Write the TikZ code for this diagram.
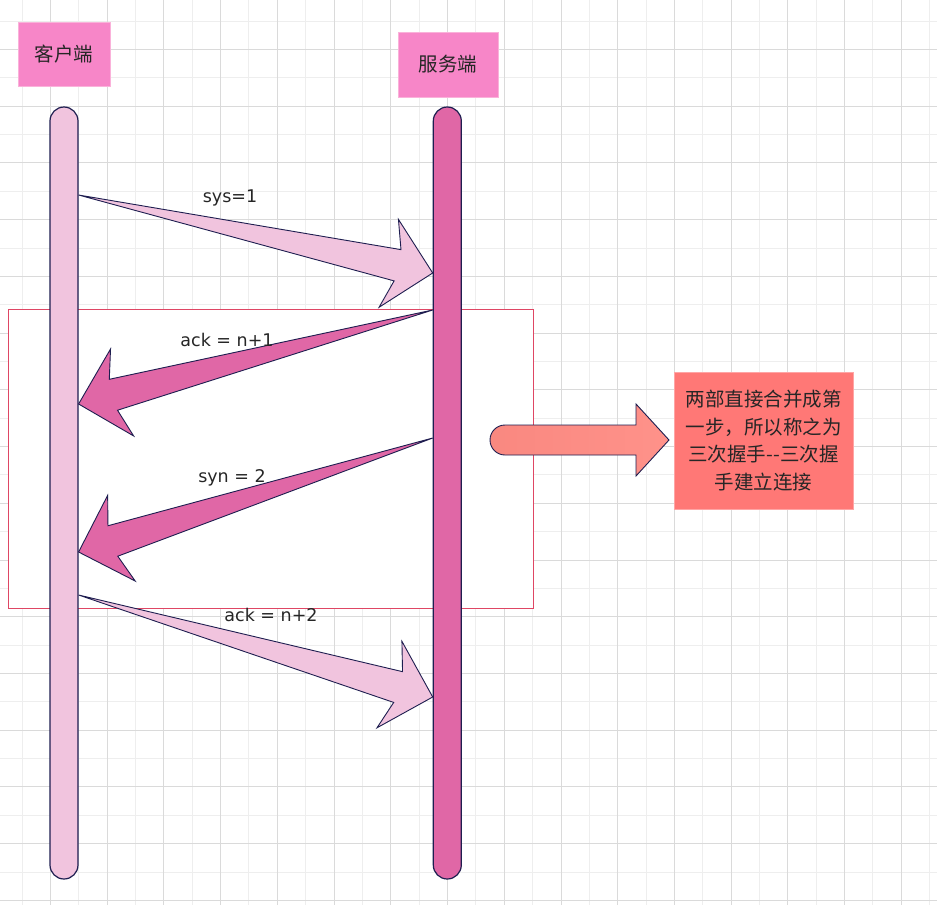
\documentclass[tikz,border=0pt]{standalone}
\usepackage{fontspec}
\setmainfont{Noto Sans CJK SC}
\newfontfamily\latinfont{DejaVu Sans}
\usetikzlibrary{calc, positioning}

\definecolor{inkline}{RGB}{30,30,80}
\definecolor{headpink}{RGB}{247,134,200}
\definecolor{headedge}{RGB}{250,178,218}
\definecolor{clientpink}{RGB}{241,196,222}
\definecolor{serverpink}{RGB}{224,103,166}
\definecolor{groupred}{RGB}{223,70,100}
\definecolor{notered}{RGB}{255,120,118}
\definecolor{noteedge}{RGB}{255,165,165}
\definecolor{salmonl}{RGB}{249,136,128}
\definecolor{salmonr}{RGB}{255,146,138}
\definecolor{griddk}{RGB}{218,218,218}
\definecolor{gridlt}{RGB}{238,238,238}

% tapered message arrow: #1 tail, #2 tip, #3 fill
\newcommand{\msgarrow}[3]{%
  \path ($(#2)!36pt!(#1)$) coordinate (neck)
        ($(#2)!45pt!(#1)$) coordinate (barb);
  \draw[msg, fill=#3] (#1) -- ($(neck)!16pt!-90:(#2)$) -- ($(barb)!45pt!-90:(#2)$)
    -- (#2) -- ($(barb)!45pt!90:(#2)$) -- ($(neck)!16pt!90:(#2)$) -- cycle;
}

\begin{document}
\begin{tikzpicture}[x=1pt, y=-1pt,
    cjk/.style={font={\fontsize{19.5}{27.7}\selectfont}, text=black!85},
    head/.style={cjk, fill=headpink, draw=headedge, line width=1pt, inner sep=0pt},
    lifeline/.style={draw=inkline, line width=1.2pt, minimum width=28pt, minimum height=772pt, rounded corners=14pt, inner sep=0pt},
    msg/.style={draw=inkline, line width=0.9pt},
    msglabel/.style={font={\fontsize{17.5}{21}\selectfont\latinfont}, text=black!85, inner sep=0pt},
    notebox/.style={cjk, fill=notered, draw=noteedge, line width=1pt, minimum width=179pt, minimum height=137pt, align=center, inner sep=0pt},
]
    \clip (0,0) rectangle (937,905);
    \fill[white] (0,0) rectangle (937,905);

    % grid
    \foreach \k in {0,...,16} {
        \draw[gridlt, line width=0.8pt] ({21.9+56.73*\k},0) -- ++(0,905);
        \draw[gridlt, line width=0.8pt] (0,{21+56.73*\k}) -- ++(937,0);
    }
    \foreach \k in {0,...,16} {
        \draw[griddk, line width=0.8pt] ({-6.4+56.73*\k},0) -- ++(0,905);
        \draw[griddk, line width=0.8pt] (0,{-7.4+56.73*\k}) -- ++(937,0);
    }

    % merged steps
    \node[draw=groupred, fill=white, line width=0.8pt, minimum width=525pt, minimum height=299pt, inner sep=0pt] (merge) at (270.5,458.5) {};
    \draw[draw=inkline, line width=0.9pt, left color=salmonl, right color=salmonr] (560,455) -- (636,455) -- (636,476) -- (669,440) -- (636,404) -- (636,425) -- (560,425) [rounded corners=15pt] -- (490,425) -- (490,455) -- cycle;
    \node[notebox] (note) at (763.5,440.5) {两部直接合并成第\\一步，所以称之为\\三次握手-{}-三次握\\手建立连接};

    % heads and lifelines
    \node[head, minimum width=92pt, minimum height=64pt] (clienthead) at (64,54) {客户端};
    \node[head, minimum width=100pt, minimum height=65pt] (serverhead) at (448,64.5) {服务端};
    \node[lifeline, fill=clientpink] (client) at (64,493) {};
    \node[lifeline, fill=serverpink] (server) at (447.3,493) {};

    % messages
    \coordinate (sys1s) at (client.east |- 0,195);
    \coordinate (sys1e) at (server.west |- 0,273);
    \coordinate (ack1s) at (server.west |- 0,310);
    \coordinate (ack1e) at (client.east |- 0,404);
    \coordinate (syn2s) at (server.west |- 0,438);
    \coordinate (syn2e) at (client.east |- 0,552);
    \coordinate (ack2s) at (client.east |- 0,595);
    \coordinate (ack2e) at (server.west |- 0,697);
    \msgarrow{sys1s}{sys1e}{clientpink}
    \msgarrow{ack1s}{ack1e}{serverpink}
    \msgarrow{syn2s}{syn2e}{serverpink}
    \msgarrow{ack2s}{ack2e}{clientpink}

    \node[msglabel] (sys1) at (230,198) {sys=1};
    \node[msglabel] (ack1) at (227,340) {ack = n+1};
    \node[msglabel] (syn2) at (232,478) {syn = 2};
    \node[msglabel] (ack2) at (271,615) {ack = n+2};
\end{tikzpicture}
\end{document}
